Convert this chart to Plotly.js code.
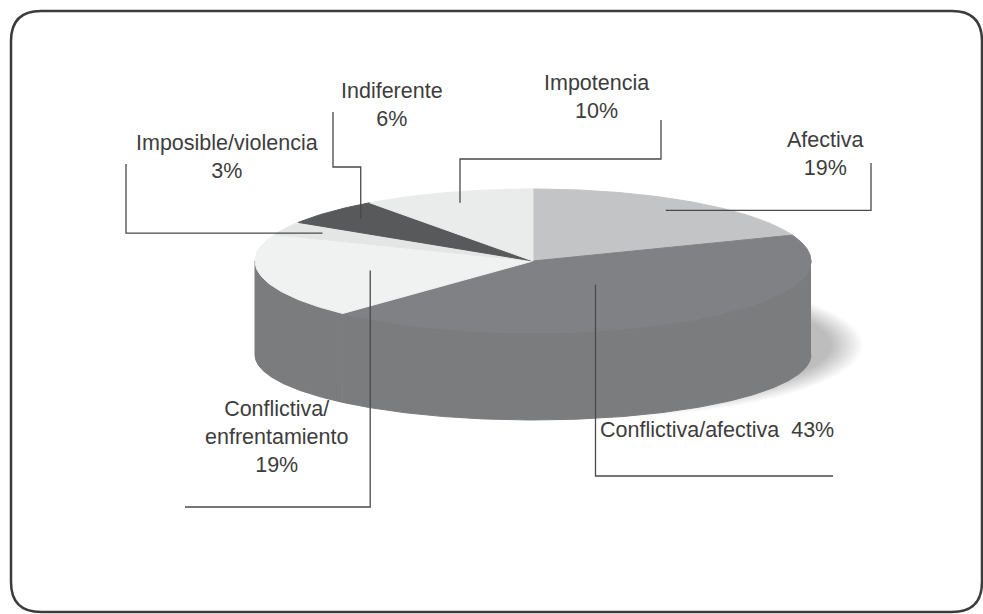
<!DOCTYPE html>
<html>
<head>
<meta charset="utf-8">
<script src="https://cdn.plot.ly/plotly-3.0.1.min.js"></script>
<style>
  html, body { margin: 0; padding: 0; background: #ffffff; }
  #chart { width: 983px; height: 614px; }
</style>
</head>
<body>
<div id="chart"></div>
<script>
// Share of each type of relationship, in percent
const categories = ['Afectiva', 'Conflictiva/afectiva', 'Conflictiva/<br>enfrentamiento',
                    'Imposible/violencia', 'Indiferente', 'Impotencia'];
const values = [19, 43, 19, 3, 6, 10];
// how the name and the percentage are joined in each label
const labelJoin = ['<br>', '  ', '<br>', '<br>', '<br>', '<br>'];

// ---- styling ----
const topColors = ['#c3c4c6', '#808184', '#f0f1f1', '#e4e5e5', '#58595b', '#eaebeb'];
const SIDE_COLOR = '#7b7c7e';
const LINE_COLOR = '#4a4a4a';
const TEXT_COLOR = '#3d3d3d';
const FONT = 'Liberation Sans, Arial, Helvetica, sans-serif';

// Tilted disc geometry, in page pixels (axes map 1:1 onto the page)
const W = 983, H = 614;
const CX = 533, CY = 261, RX = 278, RY = 72, DEPTH = 94, RY_BOTTOM = 65;

// label centres, where on each slice the leader starts, and how it is routed
const labelPos = [[825, 154], [717, 430], [276, 437], [227, 157], [392, 105], [596, 97]];
const anchorFrac = [0.85, 0.4, 0.6, 0.85, 0.85, 0.85];
const leaders = [
  { kind: 'h', railX: 871, endY: 163 },
  { kind: 'v', railY: 476, endX: 833 },
  { kind: 'v', railY: 507, endX: 185 },
  { kind: 'h', railX: 126, endY: 164 },
  { kind: 'vhv', railY: 167, railX: 333, endY: 112 },
  { kind: 'vhv', railY: 159, railX: 661, endY: 120 }
];

// angle measured clockwise from 12 o'clock
function topPt(deg, f) {
  const r = deg * Math.PI / 180;
  return [CX + f * RX * Math.sin(r), CY - f * RY * Math.cos(r)];
}
function botPt(deg) {
  const r = deg * Math.PI / 180;
  return [CX + RX * Math.sin(r), CY + DEPTH - RY_BOTTOM * Math.cos(r)];
}
function arc(a0, a1, fn) {
  const pts = [];
  const n = Math.max(2, Math.ceil((a1 - a0) / 0.5));
  for (let i = 0; i <= n; i++) pts.push(fn(a0 + (a1 - a0) * i / n));
  return pts;
}
function polyTrace(pts, color, opacity) {
  return {
    type: 'scatter', mode: 'lines', fill: 'toself',
    x: pts.map(p => p[0]), y: pts.map(p => p[1]),
    fillcolor: color, line: { color: color, width: opacity ? 0 : 1 },
    opacity: opacity || 1, hoverinfo: 'skip', showlegend: false
  };
}

const total = values.reduce((a, b) => a + b, 0);
const starts = [], ends = [];
let cum = 0;
values.forEach(v => { starts.push(cum / total * 360); cum += v; ends.push(cum / total * 360); });

const traces = [];

// soft drop shadow to the right, built from many faint nested ellipses
for (let k = 0; k < 22; k++) {
  const rx = 290 - k * 1.5, ry = 74 - k * 0.7;
  const pts = [];
  for (let a = 0; a <= 360; a += 2) {
    const r = a * Math.PI / 180;
    pts.push([573 + rx * Math.sin(r), 345 - ry * Math.cos(r)]);
  }
  traces.push(polyTrace(pts, 'rgba(0,0,0,1)', 0.013));
}

// front wall of the disc (one colour all round, drawn slice by slice)
values.forEach((v, i) => {
  const s0 = Math.max(starts[i], 90), s1 = Math.min(ends[i], 270);
  if (s1 <= s0) return;
  const top = arc(s0, s1, a => topPt(a, 1));
  const bot = arc(s0, s1, botPt).reverse();
  traces.push(polyTrace(top.concat(bot), SIDE_COLOR));
});

// top face slices
values.forEach((v, i) => {
  const pts = [[CX, CY]].concat(arc(starts[i], ends[i], a => topPt(a, 1)));
  pts.push([CX, CY]);
  traces.push(polyTrace(pts, topColors[i]));
});

// leader lines
const lx = [], ly = [];
values.forEach((v, i) => {
  const mid = (starts[i] + ends[i]) / 2;
  const [ax, ay] = topPt(mid, anchorFrac[i]);
  const L = leaders[i];
  let pts;
  if (L.kind === 'h') pts = [[ax, ay], [L.railX, ay], [L.railX, L.endY]];
  else if (L.kind === 'v') pts = [[ax, ay], [ax, L.railY], [L.endX, L.railY]];
  else pts = [[ax, ay], [ax, L.railY], [L.railX, L.railY], [L.railX, L.endY]];
  pts.forEach(p => { lx.push(p[0]); ly.push(p[1]); });
  lx.push(null); ly.push(null);
});
traces.push({
  type: 'scatter', mode: 'lines', x: lx, y: ly,
  line: { color: LINE_COLOR, width: 1.3 }, hoverinfo: 'skip', showlegend: false
});

const annotations = values.map((v, i) => ({
  x: labelPos[i][0], y: labelPos[i][1], xref: 'x', yref: 'y',
  text: categories[i] + labelJoin[i] + v + '%',
  showarrow: false, xanchor: 'center', yanchor: 'middle', align: 'center',
  font: { family: FONT, size: 21.5, color: TEXT_COLOR }
}));

// rounded frame around the chart
const fx0 = 11, fy0 = 11, fx1 = 982, fy1 = 612, rr = 30;
const framePath = `M ${fx0 + rr} ${fy0} L ${fx1 - rr} ${fy0} Q ${fx1} ${fy0} ${fx1} ${fy0 + rr} ` +
  `L ${fx1} ${fy1 - rr} Q ${fx1} ${fy1} ${fx1 - rr} ${fy1} L ${fx0 + rr} ${fy1} ` +
  `Q ${fx0} ${fy1} ${fx0} ${fy1 - rr} L ${fx0} ${fy0 + rr} Q ${fx0} ${fy0} ${fx0 + rr} ${fy0} Z`;

const layout = {
  width: W, height: H,
  margin: { l: 0, r: 0, t: 0, b: 0 },
  paper_bgcolor: '#ffffff', plot_bgcolor: '#ffffff',
  xaxis: { range: [0, W], visible: false, fixedrange: true },
  yaxis: { range: [H, 0], visible: false, fixedrange: true },
  showlegend: false,
  annotations: annotations,
  shapes: [{
    type: 'path', xref: 'x', yref: 'y', path: framePath,
    line: { color: '#3c3c3c', width: 2.5 }, fillcolor: 'rgba(0,0,0,0)', layer: 'above'
  }]
};

Plotly.newPlot('chart', traces, layout, { displayModeBar: false, staticPlot: true });
</script>
</body>
</html>
